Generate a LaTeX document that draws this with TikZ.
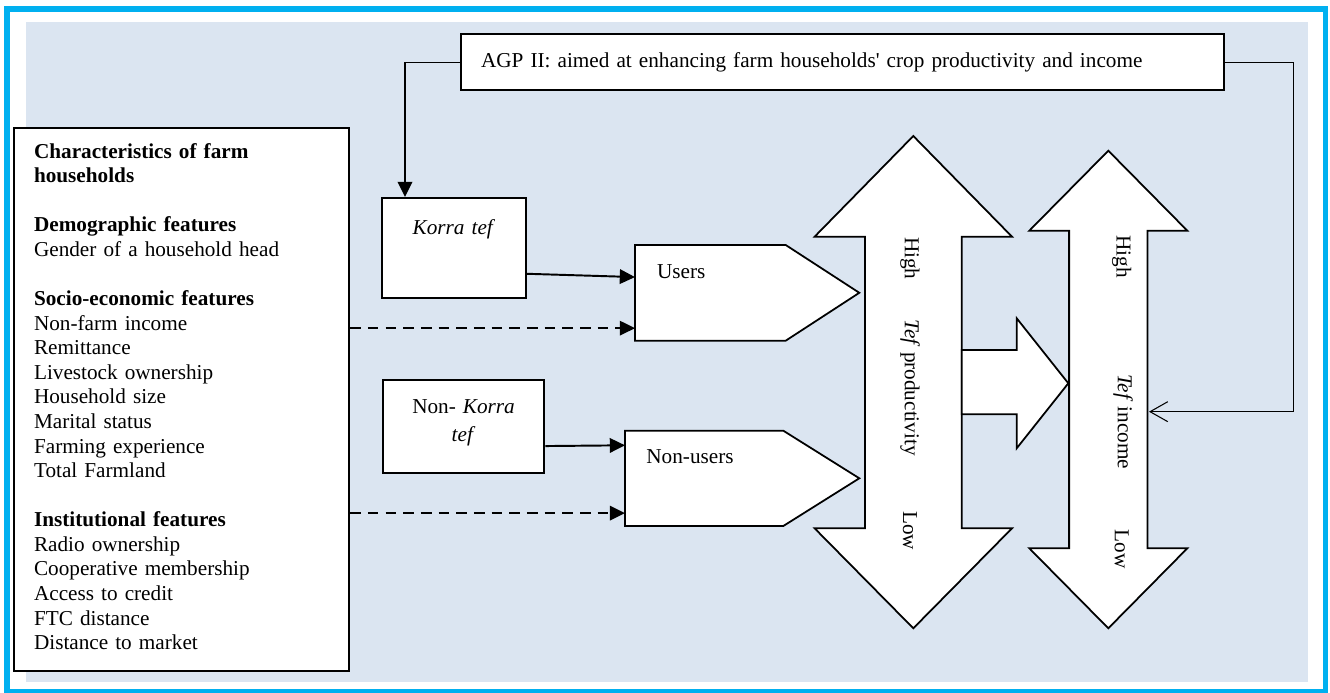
\documentclass[tikz,border=0pt]{standalone}
\usepackage{fontspec}
\setmainfont{Liberation Serif}
\usetikzlibrary{arrows.meta,calc}
\definecolor{panelblue}{HTML}{DBE5F1}
\definecolor{framecyan}{HTML}{00B0F0}

\begin{document}
\begin{tikzpicture}[x=0.5656pt,y=-0.5656pt,
   font=\fontsize{12pt}{13.9pt}\selectfont,
   box/.style={draw,fill=white,line width=1.2pt,inner sep=0pt},
   bodytext/.style={inner ysep=0pt,align=left},
   shapeline/.style={draw,fill=white,line width=1pt,line join=miter},
   arr/.style={line width=1.1pt,-{Triangle[length=8.6pt,width=8.2pt]}},
   dasharr/.style={arr,dash pattern=on 6pt off 4pt},
   wire/.style={line width=0.6pt},
   vtext/.style={rotate=-90,inner sep=0pt}]

\fill [white] (0,0) rectangle (1330,693);
\useasboundingbox (0,0) rectangle (1330,693);
\fill [panelblue] (26,22) rectangle (1307.7,681.7);
\draw [framecyan,line width=3.2pt] (7,9.2) rectangle (1325.5,691.5);

\node [box, text width=166.9pt, align=left, inner xsep=11.3pt, text height=17pt, text depth=290.2pt, anchor=north west] (chars) at (13,127)
 {\textbf{Characteristics of farm}\\
  \textbf{households}\\[\baselineskip]
  \textbf{Demographic features}\\
  Gender of a household head\\[\baselineskip]
  \textbf{Socio-economic features}\\
  Non-farm income\\
  Remittance\\
  Livestock ownership\\
  Household size\\
  Marital status\\
  Farming experience\\
  Total Farmland\\[\baselineskip]
  \textbf{Institutional features}\\
  Radio ownership\\
  Cooperative membership\\
  Access to credit\\
  FTC distance\\
  Distance to market};

\node [box, text width=409.1pt, align=left, inner xsep=11.3pt, minimum height=31.7pt, anchor=north west] (agp) at (460,33.3)
 {AGP II: aimed at enhancing farm households\textquotesingle{} crop productivity and income};

\node [box, text width=81.4pt, align=center, text height=20.8pt, text depth=35.8pt, anchor=north west] (korra) at (381,197) {\textit{Korra tef}};
\node [box, text width=91.4pt, align=center, text height=18.5pt, text depth=34.1pt, font=\fontsize{12pt}{15.8pt}\selectfont, anchor=north west] (nonkorra) at (381.7,379.3) {Non- \textit{Korra}\\ \textit{tef}};

\draw [shapeline] (635,245) -- (785.7,245) -- (859.3,292.8) -- (785.7,340.7) -- (635,340.7) -- cycle;
\draw [shapeline] (625,430.7) -- (783.3,430.7) -- (859.3,478.3) -- (783.3,526) -- (625,526) -- cycle;
\node [bodytext, text width=60.6pt, inner xsep=12.3pt, text height=18.5pt, text depth=35.6pt, anchor=north west] (users) at (635,245) {Users};
\node [bodytext, text width=65.7pt, inner xsep=11.9pt, text height=18.3pt, text depth=35.6pt, anchor=north west] (nonusers) at (625,430.7) {Non-users};

\draw [shapeline] (913.3,136) -- (1012,236.7) -- (961.7,236.7) -- (961.7,528.3) -- (1012,528.3) -- (913.3,628.3) -- (814.6,528.3) -- (865,528.3) -- (865,236.7) -- (814.6,236.7) -- cycle;
\draw [shapeline] (1108.3,150.7) -- (1187.3,230.7) -- (1147.5,230.7) -- (1147.5,548.3) -- (1187.3,548.3) -- (1108.3,628.3) -- (1029.3,548.3) -- (1069.1,548.3) -- (1069.1,230.7) -- (1029.3,230.7) -- cycle;
\draw [shapeline] (961.7,350) -- (1016.7,350) -- (1016.7,318.3) -- (1068.3,383.3) -- (1016.7,448.3) -- (1016.7,414.3) -- (961.7,414.3) -- cycle;

\node [vtext] (prodhi) at (910,258.3) {High};
\node [vtext] (prodmid) at (910,387.5) {\textit{Tef} productivity};
\node [vtext] (prodlo) at (910,530.8) {Low};
\node [vtext] (inchi) at (1121.7,256.7) {High};
\node [vtext] (incmid) at (1123,421.7) {\textit{Tef} income};
\node [vtext] (inclo) at (1121.7,549.2) {Low};

\coordinate (agpbend) at ($(agp.west)+(-55,0)$);
\draw [wire] (agp.west) -- (agpbend);
\draw [arr] (agpbend) -- (agpbend |- korra.north);

\coordinate (rbend) at (1293.3,411.7);
\coordinate (incin) at (1149,411.7);
\draw [wire,-{Straight Barb[length=10pt,width=11.3pt]}] (agp.east) -| (rbend) -- (incin);

\draw [arr] ($(korra.east)+(0,25.7)$) -- ($(users.west)+(0,-16.1)$);
\draw [arr] ($(nonkorra.east)+(0,19.2)$) -- ($(nonusers.west)+(0,-33.4)$);
\coordinate (dusers) at ($(users.west)+(0,35)$);
\coordinate (dnonusers) at ($(nonusers.west)+(0,34.4)$);
\draw [dasharr] (chars.east |- dusers) -- (dusers);
\draw [dasharr] (chars.east |- dnonusers) -- (dnonusers);

\end{tikzpicture}
\end{document}
